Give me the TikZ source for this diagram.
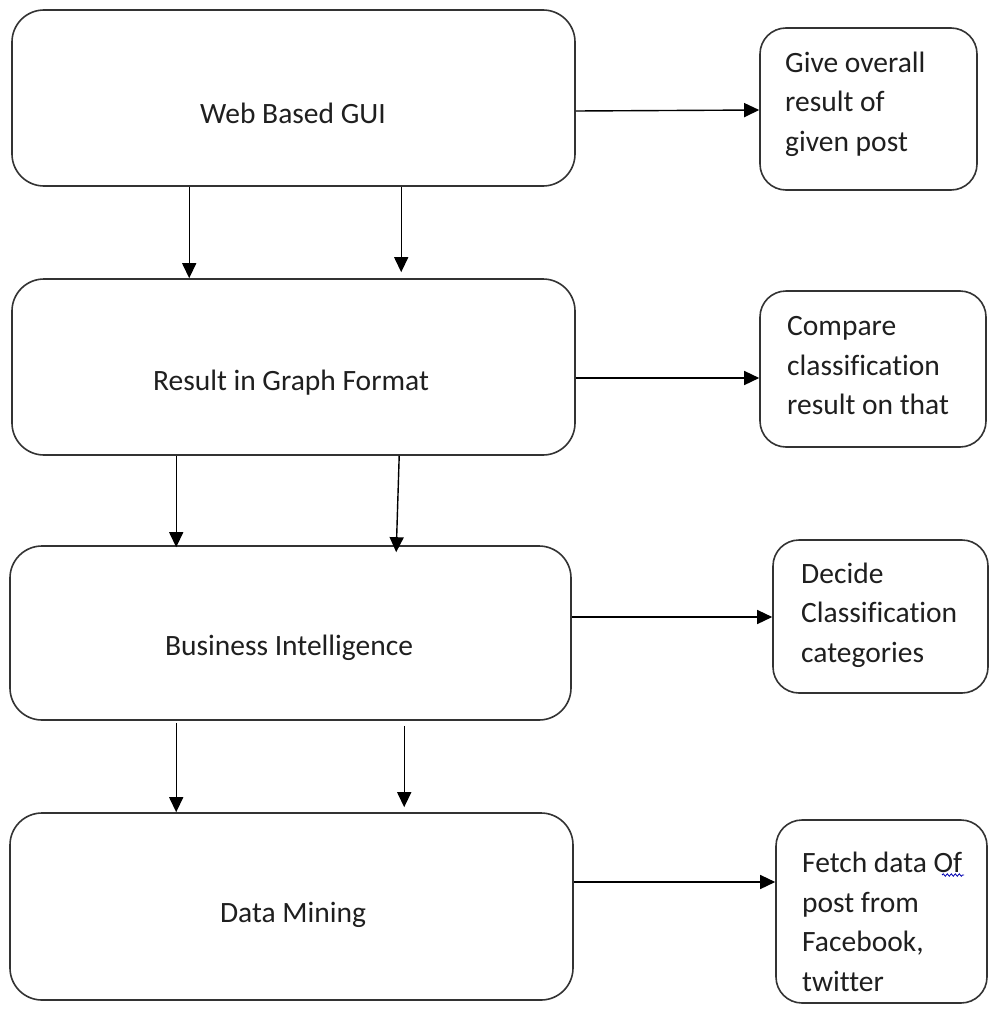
\documentclass[tikz,border=0pt]{standalone}
\usepackage{fontspec}
\setmainfont{Carlito}[Ligatures=CommonOff]
\usetikzlibrary{arrows.meta,calc,decorations.pathmorphing}
\begin{document}
\begin{tikzpicture}[x=1pt,y=-1pt,
  bigbox/.style={draw=black!80,line width=1.6pt,rounded corners=32pt,inner sep=0pt},
  sidebox/.style={draw=black!80,line width=1.6pt,rounded corners=26pt,inner sep=0pt},
  lbl/.style={font=\fontsize{29.5}{39.5}\selectfont,text=black!88,inner sep=0pt},
  sidetxt/.style={lbl,align=left,anchor=west},
  arr/.style={-{Triangle[length=15pt,width=14pt]},line width=1.4pt,black}]
\useasboundingbox (0,0) rectangle (988,1009);
\fill[white] (0,0) rectangle (988,1009);

% main boxes
\node[bigbox,minimum width=563pt,minimum height=176pt] (b1) at (293.5,98) {};
\node[bigbox,minimum width=563pt,minimum height=176pt] (b2) at (293.5,367) {};
\node[bigbox,minimum width=561pt,minimum height=174pt] (b3) at (290.5,633) {};
\node[bigbox,minimum width=563pt,minimum height=187pt] (b4) at (291.5,906.5) {};

\node[lbl] (t1) at (293,113) {Web Based GUI};
\node[lbl] (t2) at (291,383) {Result in Graph Format};
\node[lbl] (t3) at (289,648) {Business Intelligence};
\node[lbl] (t4) at (293,915) {Data Mining};

% side boxes
\node[sidebox,minimum width=217pt,minimum height=162pt] (s1) at (868.5,109) {};
\node[sidebox,minimum width=226pt,minimum height=156pt] (s2) at (873,369) {};
\node[sidebox,minimum width=215pt,minimum height=153pt] (s3) at (880.5,616.5) {};
\node[sidebox,minimum width=211pt,minimum height=183pt] (s4) at (881.5,911.5) {};

\node[sidetxt] (u1) at (785,104) {Give overall\\result of\\given post};
\node[sidetxt] (u2) at (787,366) {Compare\\classification\\result on that};
\node[sidetxt] (u3) at (801,615) {Decide\\Classification\\categories};
\node[sidetxt] (u4) at (802,922) {Fetch data Of\\post from\\Facebook,\\twitter};

% spell-check underline under "Of"
\draw[blue!70!black,line width=0.8pt,decorate,decoration={snake,amplitude=1.2pt,segment length=4pt}] (942,875) -- (964,875);

% horizontal arrows
\draw[arr] ($(b1.east)+(0,13)$) -- ($(s1.west)+(0,1)$);
\draw[arr] ($(b2.east)+(0,11)$) -- ($(s2.west)+(0,9)$);
\draw[arr] ($(b3.east)+(0,-16)$) -- ($(s3.west)+(0,0.5)$);
\draw[arr] ($(b4.east)+(0,-24.5)$) -- ($(s4.west)+(0,-29.5)$);

% vertical arrows
\draw[arr] ($(b1.south west)+(178,0)$) -- ($(b2.north west)+(178,0)$);
\draw[arr,shorten >=6pt] ($(b1.south west)+(390,0)$) -- ($(b2.north west)+(390,0)$);
\draw[arr] ($(b2.south west)+(165,0)$) -- ($(b3.north west)+(167,2)$);
\draw[arr] ($(b2.south west)+(388,0)$) -- ($(b3.north west)+(387,7)$);
\draw[arr] ($(b3.south west)+(167,2)$) -- ($(b4.north west)+(167,0)$);
\draw[arr] ($(b3.south west)+(395,5)$) -- ($(b4.north west)+(395,-5)$);
\end{tikzpicture}
\end{document}
